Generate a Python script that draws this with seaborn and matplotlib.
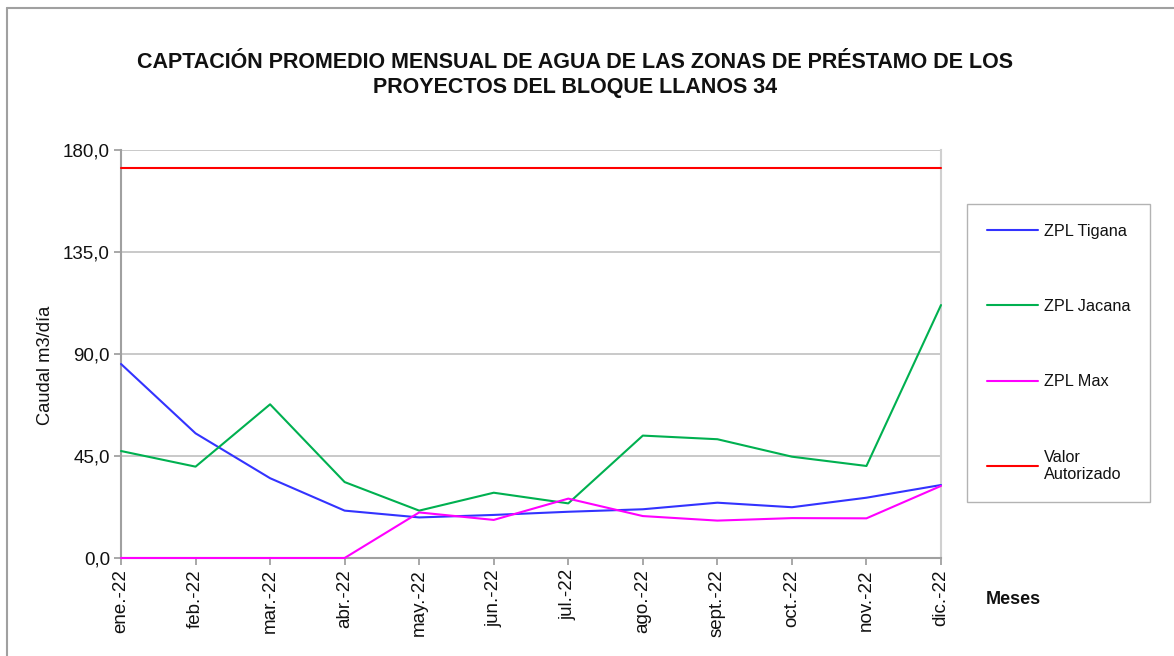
import matplotlib
matplotlib.use("Agg")
import matplotlib.pyplot as plt
import seaborn as sns
import pandas as pd
from matplotlib.lines import Line2D
from matplotlib.ticker import FuncFormatter, MultipleLocator

months = ["ene.-22", "feb.-22", "mar.-22", "abr.-22", "may.-22", "jun.-22",
          "jul.-22", "ago.-22", "sept.-22", "oct.-22", "nov.-22", "dic.-22"]
tigana = [85.6, 55.0, 35.2, 20.9, 17.9, 19.0, 20.4, 21.5, 24.4, 22.4, 26.6, 32.2]
jacana = [47.2, 40.3, 67.8, 33.5, 20.9, 28.8, 24.1, 54.0, 52.4, 44.7, 40.6, 111.6]
zmax = [0.0, 0.0, 0.0, 0.0, 20.1, 16.8, 26.2, 18.5, 16.5, 17.6, 17.5, 31.8]
autorizado = [172.0] * 12

series_names = ["ZPL Tigana", "ZPL Jacana", "ZPL Max", "Valor\nAutorizado"]
series_values = [tigana, jacana, zmax, autorizado]
colors = ["#3333ff", "#00b050", "#ff00ff", "#ff0000"]

rows = []
for name, vals in zip(series_names, series_values):
    for i, v in enumerate(vals):
        rows.append({"idx": i, "Mes": months[i], "valor": v, "serie": name})
df = pd.DataFrame(rows)

sns.set_theme(style="white")
plt.rcParams["font.family"] = ["Liberation Sans", "DejaVu Sans"]

W, H = 1174, 656
fig = plt.figure(figsize=(W / 100, H / 100), dpi=100)
ax = fig.add_axes([121 / W, 1 - 558 / H, 820 / W, 408 / H])

sns.lineplot(data=df, x="idx", y="valor", hue="serie", hue_order=series_names,
             palette=colors, linewidth=1.5, ax=ax, legend=True)
for ln in ax.lines:
    ln.set_zorder(4)
    ln.set_clip_on(False)

ax.set_xlim(0, 11)
ax.set_ylim(0, 180)
ax.yaxis.set_major_locator(MultipleLocator(45))
ax.yaxis.set_major_formatter(FuncFormatter(lambda v, p: f"{v:.1f}".replace(".", ",")))
ax.set_xticks(range(12))
ax.set_xticklabels(months, rotation=90, fontsize=13.5)
ax.tick_params(axis="y", labelsize=13.5, length=5, width=1.2, color="#999999",
               direction="out", left=True, pad=3, labelcolor="#111111")
ax.tick_params(axis="x", length=5, width=1.2, color="#999999", direction="out",
               bottom=True, pad=3, labelcolor="#111111")
ax.grid(axis="y", color="#c0c0c0", linewidth=1.2)
ax.set_axisbelow(True)
for s in ["left", "bottom"]:
    ax.spines[s].set_color("#a0a0a0")
    ax.spines[s].set_linewidth(1.5)
ax.spines["top"].set_visible(False)
ax.spines["right"].set_color("#d0d0d0")
ax.spines["right"].set_linewidth(1.5)

ax.set_xlabel("")
ax.set_ylabel("")
fig.text(45 / W, 1 - 365 / H, "Caudal m3/día", fontsize=13.2, rotation=90,
         ha="center", va="center", color="#111111")
fig.text(1013 / W, 1 - 600 / H, "Meses", fontsize=13, fontweight="bold",
         ha="center", va="center", color="#111111")

fig.text(575 / W, 1 - 75 / H,
         "CAPTACIÓN PROMEDIO MENSUAL DE AGUA DE LAS ZONAS DE PRÉSTAMO DE LOS\nPROYECTOS DEL BLOQUE LLANOS 34",
         fontsize=15.5, fontweight="bold", ha="center", va="center",
         linespacing=1.25, color="#111111")

handles, labels = ax.get_legend_handles_labels()
leg = ax.legend(handles, labels, loc="upper left",
                bbox_to_anchor=(967 / W, 1 - 204 / H), bbox_transform=fig.transFigure,
                frameon=True, fancybox=False, edgecolor="#a0a0a0", fontsize=11.7,
                labelspacing=3.72, handlelength=3.14, handletextpad=0.37,
                borderpad=1.2, borderaxespad=0)
leg.get_frame().set_linewidth(1.0)
for t in leg.get_texts():
    t.set_color("#111111")

# outer chart-area border (top and left edges visible)
fig.add_artist(Line2D([7 / W, 7 / W], [0, 1 - 8 / H], transform=fig.transFigure,
                      color="#a0a0a0", linewidth=1.5))
fig.add_artist(Line2D([7 / W, 1], [1 - 8 / H, 1 - 8 / H], transform=fig.transFigure,
                      color="#a0a0a0", linewidth=1.5))

fig.savefig("out.png", dpi=100)
